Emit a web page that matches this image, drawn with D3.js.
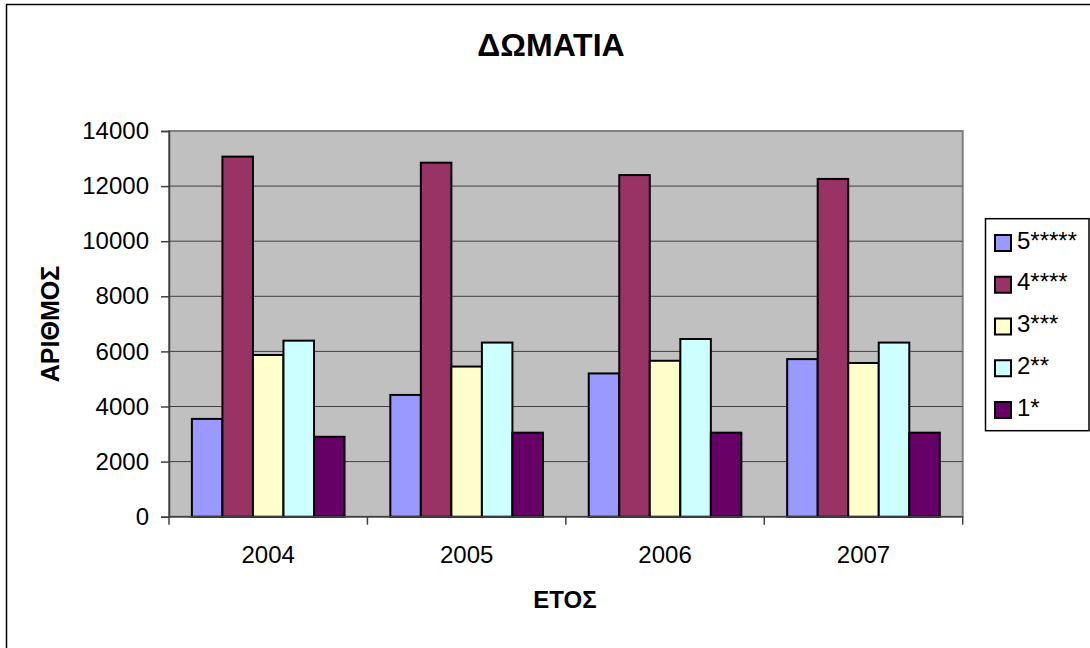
<!DOCTYPE html>
<html>
<head>
<meta charset="utf-8">
<script src="https://cdn.jsdelivr.net/npm/d3@7"></script>
<style>
  html, body { margin: 0; padding: 0; background: #fff; }
  svg { display: block; font-family: "Liberation Sans", Arial, sans-serif; }
</style>
</head>
<body>
<svg id="chart" width="1090" height="648"></svg>
<script>
// Room counts per hotel class, 2004–2007
const years = ["2004", "2005", "2006", "2007"];
const classes = ["5*****", "4****", "3***", "2**", "1*"];
const colors = ["#9999FF", "#993366", "#FFFFCC", "#CCFFFF", "#660066"];
const rooms5 = [3550, 4420, 5200, 5720];
const rooms4 = [13070, 12850, 12400, 12260];
const rooms3 = [5870, 5450, 5660, 5580];
const rooms2 = [6390, 6320, 6450, 6320];
const rooms1 = [2900, 3050, 3050, 3050];
const yTicks = [0, 2000, 4000, 6000, 8000, 10000, 12000, 14000];

const seriesValues = [rooms5, rooms4, rooms3, rooms2, rooms1];

const svg = d3.select("#chart");

// Outer chart frame (extends past the right and bottom edges)
svg.append("rect")
  .attr("x", 6.5).attr("y", 4.5)
  .attr("width", 1200).attr("height", 800)
  .attr("fill", "#fff").attr("stroke", "#000").attr("stroke-width", 1.5);

const plot = { left: 169, top: 131, right: 962.7, bottom: 516.7 };

const x = d3.scaleBand()
  .domain(years)
  .range([plot.left, plot.right])
  .paddingInner(0).paddingOuter(0);

const bw = x.bandwidth() / 6.5; // 150% gap width
const xs = d3.scaleBand()
  .domain(classes)
  .range([bw * 0.75, x.bandwidth() - bw * 0.75]);

const y = d3.scaleLinear()
  .domain([0, 14000])
  .range([plot.bottom, plot.top]);

// Plot area background
svg.append("rect")
  .attr("x", plot.left).attr("y", plot.top)
  .attr("width", plot.right - plot.left)
  .attr("height", plot.bottom - plot.top)
  .attr("fill", "#C0C0C0")
  .attr("stroke", "#808080").attr("stroke-width", 2);

// Horizontal gridlines
svg.append("g").selectAll("line")
  .data(yTicks.filter(d => d > 0 && d < 14000))
  .join("line")
  .attr("x1", plot.left).attr("x2", plot.right)
  .attr("y1", d => y(d)).attr("y2", d => y(d))
  .attr("stroke", "#404040").attr("stroke-width", 1);

// Bars
const groups = svg.append("g").selectAll("g")
  .data(years)
  .join("g")
  .attr("transform", d => `translate(${x(d)},0)`);

groups.selectAll("rect")
  .data((yr, i) => classes.map((c, k) => ({ c, k, v: seriesValues[k][i] })))
  .join("rect")
  .attr("x", d => xs(d.c))
  .attr("width", xs.bandwidth())
  .attr("y", d => y(d.v))
  .attr("height", d => plot.bottom - y(d.v))
  .attr("fill", d => colors[d.k])
  .attr("stroke", "#000").attr("stroke-width", 2);

// Y axis
const yAxis = svg.append("g")
  .attr("transform", `translate(${plot.left},0)`)
  .call(d3.axisLeft(y).tickValues(yTicks).tickSize(8).tickPadding(12).tickFormat(d3.format("d")));
yAxis.select(".domain").attr("stroke", "#404040").attr("stroke-width", 1.5);
yAxis.selectAll(".tick line").attr("stroke", "#404040").attr("stroke-width", 1.5);
yAxis.selectAll(".tick text")
  .attr("font-size", 24).attr("fill", "#000")
  .attr("font-family", "'Liberation Sans', Arial, sans-serif");

// X axis: ticks at category boundaries
const xAxisG = svg.append("g");
xAxisG.append("line")
  .attr("x1", plot.left).attr("x2", plot.right)
  .attr("y1", plot.bottom).attr("y2", plot.bottom)
  .attr("stroke", "#404040").attr("stroke-width", 1.5);
const boundaries = years.map(d => x(d)).concat([plot.right]);
xAxisG.selectAll("line.tk")
  .data(boundaries)
  .join("line")
  .attr("class", "tk")
  .attr("x1", d => d).attr("x2", d => d)
  .attr("y1", plot.bottom).attr("y2", plot.bottom + 8)
  .attr("stroke", "#404040").attr("stroke-width", 1.5);
xAxisG.selectAll("text")
  .data(years)
  .join("text")
  .attr("x", d => x(d) + x.bandwidth() / 2)
  .attr("y", 563)
  .attr("text-anchor", "middle")
  .attr("font-size", 24)
  .text(d => d);

// Titles
svg.append("text")
  .attr("x", 551).attr("y", 56)
  .attr("text-anchor", "middle")
  .attr("font-size", 32).attr("font-weight", "bold")
  .text("ΔΩΜΑΤΙΑ");

svg.append("text")
  .attr("x", 565).attr("y", 608)
  .attr("text-anchor", "middle")
  .attr("font-size", 24).attr("font-weight", "bold")
  .text("ΕΤΟΣ");

svg.append("text")
  .attr("transform", "translate(59,324) rotate(-90)")
  .attr("text-anchor", "middle")
  .attr("font-size", 25).attr("font-weight", "bold")
  .text("ΑΡΙΘΜΟΣ");

// Legend
const legend = svg.append("g");
legend.append("rect")
  .attr("x", 985.5).attr("y", 218.7)
  .attr("width", 103.5).attr("height", 212)
  .attr("fill", "#fff").attr("stroke", "#000").attr("stroke-width", 1.5);

const ly = d3.scalePoint().domain(classes).range([243, 410]);
const items = legend.selectAll("g.item")
  .data(classes)
  .join("g")
  .attr("class", "item")
  .attr("transform", d => `translate(0,${ly(d)})`);
items.append("rect")
  .attr("x", 995).attr("y", -8)
  .attr("width", 16).attr("height", 16)
  .attr("fill", (d, i) => colors[i])
  .attr("stroke", "#000").attr("stroke-width", 2);
items.append("text")
  .attr("x", 1017).attr("y", 5.5)
  .attr("font-size", 24)
  .text(d => d);
</script>
</body>
</html>
